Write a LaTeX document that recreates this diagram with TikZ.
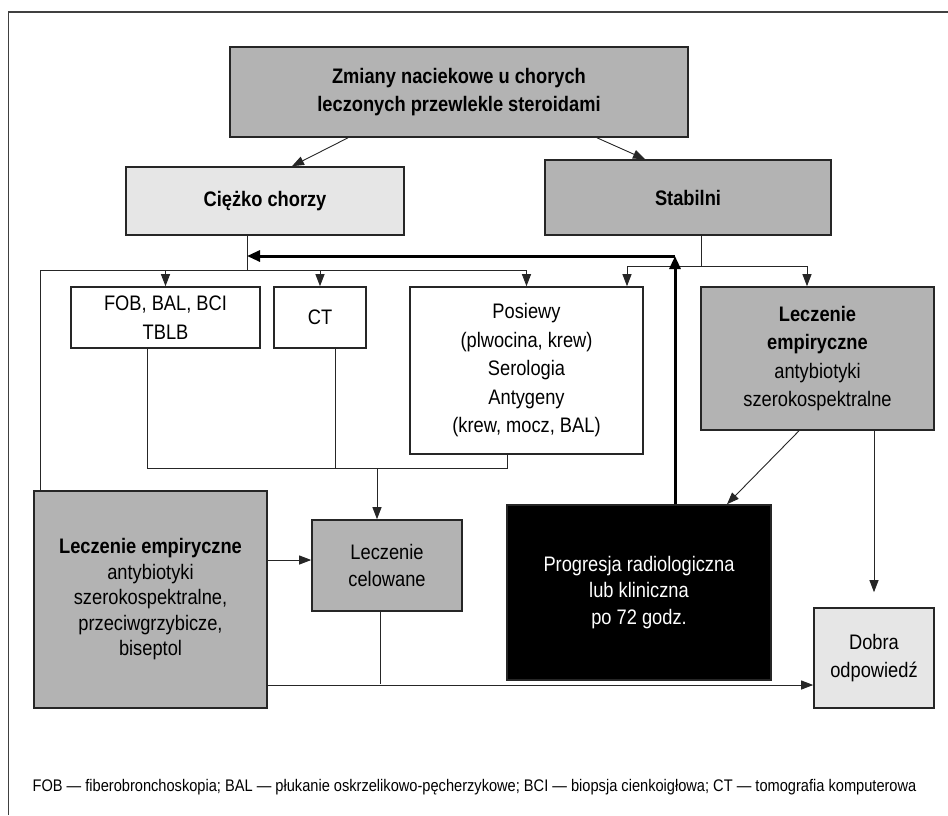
\documentclass[tikz,border=0pt]{standalone}
\usepackage{fontspec}
\setmainfont{Liberation Sans}[FakeStretch=0.87]
\usepackage{tikz}
\usetikzlibrary{arrows.meta, positioning, calc}
\definecolor{boxgray}{RGB}{179,179,179}
\definecolor{boxlight}{RGB}{230,230,230}
\tikzstyle{box} = [rectangle, draw=black!85, line width=1.6pt, align=center, inner sep=2pt, font=\fontsize{21}{28.5}\selectfont]
\tikzstyle{line} = [line width=0.9pt, draw=black!85]
\tikzstyle{arrow} = [line width=0.9pt, draw=black!85, -{Triangle[length=12pt,width=9pt]}]
\tikzstyle{thickarrow} = [line width=3pt, -{Triangle[length=13pt,width=11pt]}]

\begin{document}
\begin{tikzpicture}[x=1pt, y=-1pt]
    \useasboundingbox (0,0) rectangle (948,815);
    \draw[line width=1.6pt, black!75] (8.5,815) -- (8.5,12) -- (948,12);

    \node (top) [box, fill=boxgray, minimum width=458pt, minimum height=90pt, font=\fontsize{21}{28}\selectfont\bfseries] at (459,92) {Zmiany naciekowe u chorych\\leczonych przewlekle steroidami};
    \node (ciez) [box, fill=boxlight, minimum width=278pt, minimum height=68pt, font=\fontsize{21}{28}\selectfont\bfseries] at (265,201) {Ciężko chorzy};
    \node (stab) [box, fill=boxgray, minimum width=286pt, minimum height=75pt, font=\fontsize{21}{28}\selectfont\bfseries] at (688,197.5) {Stabilni};

    \node (fob) [box, fill=white, minimum width=189pt, minimum height=61pt] at (165.5,317.5) {FOB, BAL, BCI\\TBLB};
    \node (ct) [box, fill=white, minimum width=92pt, minimum height=61pt] at (320,317.5) {CT};
    \node (pos) [box, fill=white, minimum width=233pt, minimum height=167pt] at (526.5,370.5) {Posiewy\\(plwocina, krew)\\Serologia\\Antygeny\\(krew, mocz, BAL)};
    \node (lemr) [box, fill=boxgray, minimum width=233pt, minimum height=143pt] at (817.5,358.5) {\textbf{Leczenie}\\\textbf{empiryczne}\\antybiotyki\\szerokospektralne};

    \node (leml) [box, fill=boxgray, minimum width=233pt, minimum height=217pt, font=\fontsize{21}{25.5}\selectfont] at (150.5,599.5) {\textbf{Leczenie empiryczne}\\antybiotyki\\szerokospektralne,\\przeciwgrzybicze,\\biseptol};
    \node (cel) [box, fill=boxgray, minimum width=150pt, minimum height=91pt, font=\fontsize{21}{27}\selectfont] at (387,565.5) {Leczenie\\celowane};
    \node (prog) [box, fill=black, text=white, minimum width=264pt, minimum height=175pt, font=\fontsize{21}{26.5}\selectfont] at (639,592.5) {Progresja radiologiczna\\lub kliniczna\\po 72 godz.};
    \node (dobra) [box, fill=boxlight, minimum width=120pt, minimum height=100pt] at (874,658) {Dobra\\odpowiedź};

    \node (legend) [font=\fontsize{16.8}{18}\selectfont] at (474.5,787) {FOB — fiberobronchoskopia; BAL — płukanie oskrzelikowo-pęcherzykowe; BCI — biopsja cienkoigłowa; CT — tomografia komputerowa};

    % junctions
    \coordinate (jl) at (247,270);
    \coordinate (jr) at (701,266);
    \coordinate (ret) at (675,256);
    \coordinate (col) at (377,468);
    \coordinate (celend) at (380,684);

    \draw[arrow] ([xshift=-111pt]top.south) -- ([xshift=27pt]ciez.north);
    \draw[arrow] ([xshift=138pt]top.south) -- ([xshift=-43pt]stab.north);

    \draw[line] ([xshift=-18pt]ciez.south) -- (jl);
    \draw[line] ([xshift=7pt]leml.north west) |- (pos.north |- jl);
    \draw[arrow] (fob.north |- jl) -- (fob.north);
    \draw[arrow] (ct.north |- jl) -- (ct.north);
    \draw[arrow] (pos.north |- jl) -- (pos.north);

    \draw[line] ([xshift=13pt]stab.south) -- (jr);
    \draw[arrow] (jr) -| ([xshift=100.5pt]pos.north);
    \draw[arrow] (jr) -| ([xshift=-10.5pt]lemr.north);

    \draw[thickarrow] ([xshift=36pt]prog.north) -- (ret);
    \draw[thickarrow] (ret) -- (ret -| jl);

    \draw[line] ([xshift=-18.5pt]fob.south) |- ([xshift=-19.5pt]pos.south |- col) -- ([xshift=-19.5pt]pos.south);
    \draw[line] ([xshift=15pt]ct.south) -- ([xshift=15pt]ct.south |- col);
    \draw[arrow] (col) -- ([xshift=-10pt]cel.north);

    \draw[arrow] ([xshift=-18.5pt]lemr.south) -- ([xshift=88pt]prog.north);
    \draw[arrow, shorten >=15pt] (dobra.north |- lemr.south) -- (dobra.north);

    \draw[arrow] ([yshift=39.5pt]leml.east) -- ([yshift=39.5pt]leml.east -| cel.west);
    \draw[arrow] ([yshift=-85.5pt]leml.east) -- ([yshift=-85.5pt]leml.east -| dobra.west);
    \draw[line] ([xshift=-7pt]cel.south) -- (celend);
\end{tikzpicture}
\end{document}
